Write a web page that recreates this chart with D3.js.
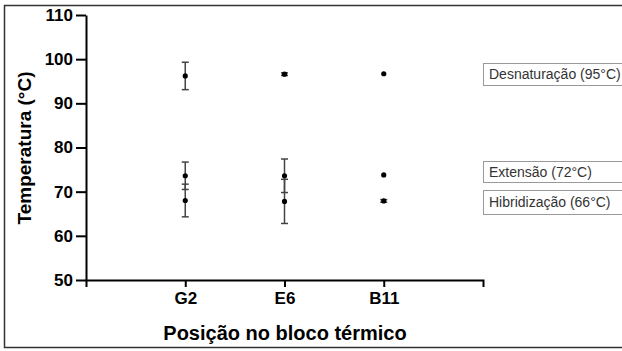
<!DOCTYPE html>
<html>
<head>
<meta charset="utf-8">
<script src="https://cdn.jsdelivr.net/npm/d3@7"></script>
<style>
  body { margin: 0; background: #fff; }
  svg { font-family: "Liberation Sans", Arial, sans-serif; }
  .axis path, .axis line { stroke: #000; stroke-width: 2; }
  .axis text { font-size: 17px; font-weight: bold; fill: #000; }
</style>
</head>
<body>
<div class="chart"></div>
<script>
//////////////////////////////////////////////////////////////
/////////////////////////// Data /////////////////////////////
//////////////////////////////////////////////////////////////

var categories = ["G2", "E6", "B11"];
var yTicks = [50, 60, 70, 80, 90, 100, 110];

// mean and SD
var desnMean = [96.2, 96.6, 96.7];
var desnSd   = [3.1, 0.3, 0];
var extMean  = [73.6, 73.6, 73.8];
var extSd    = [3.1, 3.8, 0];
var hibMean  = [68.0, 67.8, 67.9];
var hibSd    = [3.7, 5.0, 0.3];

var seriesNames = ["Desnaturação (95°C)", "Extensão (72°C)", "Hibridização (66°C)"];

var series = [
  {name: seriesNames[0], mean: desnMean, sd: desnSd},
  {name: seriesNames[1], mean: extMean, sd: extSd},
  {name: seriesNames[2], mean: hibMean, sd: hibSd}
];

//////////////////////////////////////////////////////////////
/////////////////////// Settings /////////////////////////////
//////////////////////////////////////////////////////////////

var W = 622, H = 351;
var x0 = 86, x1 = 483, yTop = 15, yBot = 280;

var svg = d3.select(".chart").append("svg")
    .attr("width", W)
    .attr("height", H);

// picture frame
svg.append("rect")
    .attr("x", 4.5).attr("y", 5.5)
    .attr("width", W + 10).attr("height", 342)
    .attr("fill", "none")
    .attr("stroke", "#333")
    .attr("stroke-width", 1.5);

var xScale = d3.scaleLinear().domain([0, categories.length + 1]).range([x0, x1]);
var yScale = d3.scaleLinear().domain([50, 110]).range([yBot, yTop]);

// axes
svg.append("g")
    .attr("class", "axis")
    .attr("transform", "translate(" + x0 + ",0)")
    .call(d3.axisLeft(yScale).tickValues(yTicks).tickSize(10).tickSizeOuter(0).tickPadding(3));

svg.append("g")
    .attr("class", "axis")
    .attr("transform", "translate(0," + yBot + ")")
    .call(d3.axisBottom(xScale)
      .tickValues(d3.range(1, categories.length + 1))
      .tickFormat(function(d) { return categories[d - 1]; })
      .tickSize(7).tickSizeOuter(7).tickPadding(5));

// axis titles
svg.append("text")
    .attr("transform", "translate(31,148) rotate(-90)")
    .attr("text-anchor", "middle")
    .style("font-size", "19px")
    .style("font-weight", "bold")
    .text("Temperatura (°C)");

svg.append("text")
    .attr("x", 285).attr("y", 340)
    .attr("text-anchor", "middle")
    .style("font-size", "20px")
    .style("font-weight", "bold")
    .text("Posição no bloco térmico");

//////////////////////////////////////////////////////////////
////////////////////// Error bars ////////////////////////////
//////////////////////////////////////////////////////////////

var capW = 3.5;

series.forEach(function(s) {
  var g = svg.append("g");
  categories.forEach(function(c, i) {
    var cx = xScale(i + 1);
    var m = s.mean[i], sd = s.sd[i];
    if (sd > 0) {
      g.append("line")
          .attr("x1", cx).attr("x2", cx)
          .attr("y1", yScale(m + sd)).attr("y2", yScale(m - sd))
          .attr("stroke", "#444").attr("stroke-width", 1.5);
      [m + sd, m - sd].forEach(function(v) {
        g.append("line")
            .attr("x1", cx - capW).attr("x2", cx + capW)
            .attr("y1", yScale(v)).attr("y2", yScale(v))
            .attr("stroke", "#444").attr("stroke-width", 1.5);
      });
    }
    g.append("circle")
        .attr("cx", cx).attr("cy", yScale(m))
        .attr("r", 2.6)
        .attr("fill", "#000");
  });
});

//////////////////////////////////////////////////////////////
//////////////////////// Labels //////////////////////////////
//////////////////////////////////////////////////////////////

var boxes = [
  {y: 63, h: 22},
  {y: 161, h: 21},
  {y: 190, h: 24}
];

series.forEach(function(s, i) {
  svg.append("rect")
      .attr("x", 483.5).attr("y", boxes[i].y + 0.5)
      .attr("width", 150).attr("height", boxes[i].h)
      .attr("fill", "#fff")
      .attr("stroke", "#999");
  svg.append("text")
      .attr("x", 489)
      .attr("y", boxes[i].y + boxes[i].h / 2 + 5)
      .style("font-size", "14px")
      .style("fill", "#333")
      .text(s.name);
});
</script>
</body>
</html>
